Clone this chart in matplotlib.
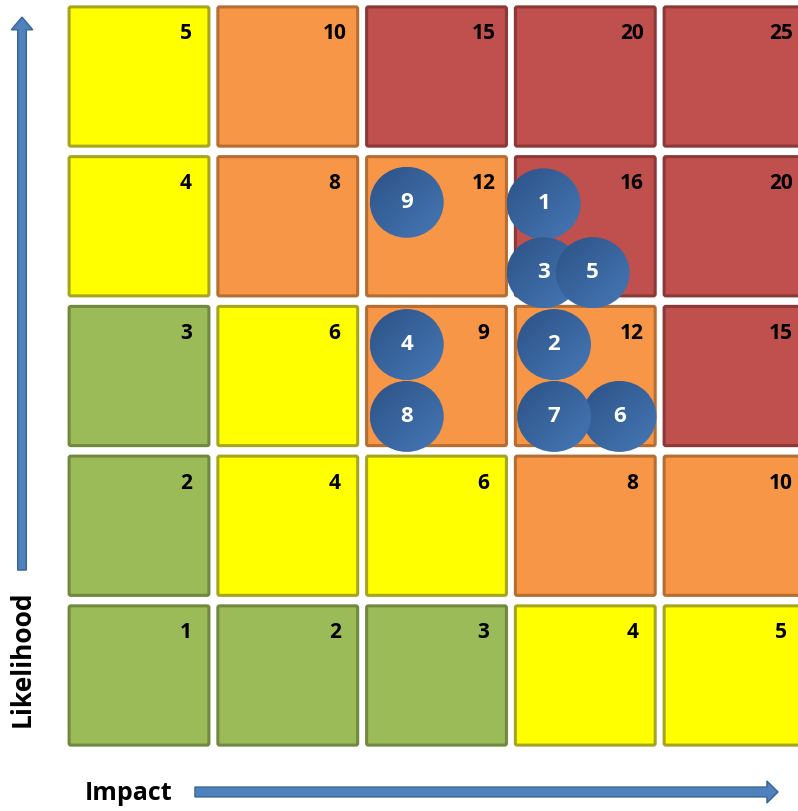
import numpy as np
import matplotlib
matplotlib.use("Agg")
import matplotlib.pyplot as plt
from matplotlib.patches import FancyBboxPatch, Ellipse, FancyArrow

# Grid axes
impact_levels = [1, 2, 3, 4, 5]
likelihood_levels = [1, 2, 3, 4, 5]

# Risk markers: id, impact position, likelihood position
risk_ids = [1, 2, 3, 4, 5, 6, 7, 8, 9]
risk_impact = [3.72, 3.79, 3.72, 2.80, 4.05, 4.23, 3.79, 2.80, 2.80]
risk_likelihood = [4.15, 3.21, 3.69, 3.21, 3.69, 2.73, 2.73, 2.73, 4.16]

# Score bands: (upper bound inclusive, fill colour, edge colour)
bands = [
    (3, "#9BBB59", "#71893F"),
    (6, "#FFFF00", "#A5A520"),
    (12, "#F79646", "#B66D31"),
    (25, "#C0504D", "#8C3836"),
]

FONT = ["Open Sans", "DejaVu Sans"]

fig = plt.figure(figsize=(7.98, 8.11), dpi=100)
ax = fig.add_axes([0, 0, 1, 1])
XLIM = (0.0655, 5.430)
YLIM = (0.095, 5.511)
ax.set_xlim(*XLIM)
ax.set_ylim(*YLIM)
ax.axis("off")

HW, HH = 0.47, 0.465

def band_for(score):
    for upper, fc, ec in bands:
        if score <= upper:
            return fc, ec
    return bands[-1][1], bands[-1][2]

for li in likelihood_levels:
    for im in impact_levels:
        score = im * li
        fc, ec = band_for(score)
        box = FancyBboxPatch((im - HW, li - HH), 2 * HW, 2 * HH,
                             boxstyle="round,pad=0,rounding_size=0.012",
                             facecolor=fc, edgecolor=ec, linewidth=2.2, zorder=1)
        ax.add_patch(box)
        ax.text(im + 0.315, li + 0.285, str(score), ha="center", va="center",
                fontsize=15, fontweight="bold", color="black",
                family=FONT, zorder=2)

# Gradient-filled risk markers
c_dark = np.array([44, 82, 134]) / 255
c_light = np.array([70, 120, 182]) / 255
n = 64
gx, gy = np.meshgrid(np.linspace(0, 1, n), np.linspace(0, 1, n))
t = np.clip((gx + gy) / 2, 0, 1)  # 0 at top-left, 1 at bottom-right (origin upper)
grad = c_dark[None, None, :] * (1 - t[..., None]) + c_light[None, None, :] * t[..., None]

W, H = 0.497, 0.474
for k, (rid, x, y) in enumerate(zip(risk_ids, risk_impact, risk_likelihood)):
    z = 5 + k * 0.1
    e = Ellipse((x, y), W, H, facecolor="none", edgecolor="none", zorder=z)
    ax.add_patch(e)
    ax.imshow(grad, extent=(x - W / 2, x + W / 2, y - H / 2, y + H / 2),
              origin="upper", aspect="auto", interpolation="bilinear",
              zorder=z, clip_path=e)
    ax.text(x, y, str(rid), ha="center", va="center", fontsize=16,
            fontweight="bold", color="white", family=FONT, zorder=z + 0.05)

ax.set_xlim(*XLIM)
ax.set_ylim(*YLIM)

arrow_fc = "#4F81BD"
arrow_ec = "#3A6496"

# Likelihood arrow (vertical)
ax.add_patch(FancyArrow(0.2134, 1.704, 0, 5.397 - 1.704, width=0.058,
                        head_width=0.145, head_length=0.085,
                        length_includes_head=True, facecolor=arrow_fc,
                        edgecolor=arrow_ec, linewidth=1.0, zorder=3))
# Impact arrow (horizontal)
ax.add_patch(FancyArrow(1.376, 0.222, 5.296 - 1.376, 0, width=0.066,
                        head_width=0.147, head_length=0.075,
                        length_includes_head=True, facecolor=arrow_fc,
                        edgecolor=arrow_ec, linewidth=1.0, zorder=3))

ax.text(0.2134, 1.115, "Likelihood", rotation=90, ha="center", va="center",
        fontsize=19, fontweight="bold", family=FONT, color="black")
ax.text(0.93, 0.215, "Impact", ha="center", va="center",
        fontsize=18, fontweight="bold", family=FONT, color="black")

fig.savefig("out.png", dpi=100)
